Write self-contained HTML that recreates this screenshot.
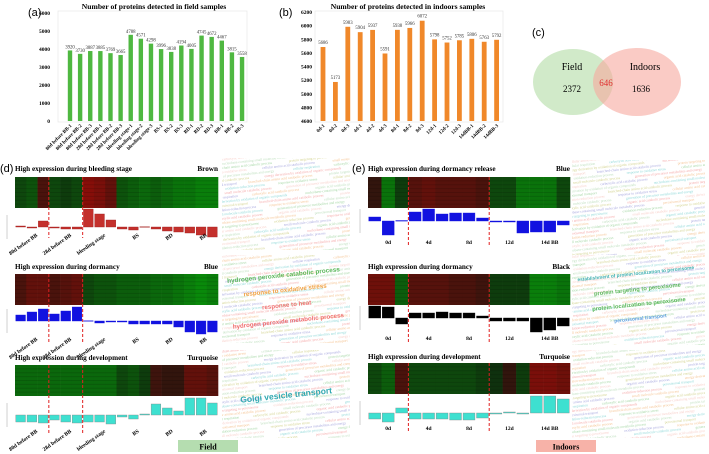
<!DOCTYPE html>
<html><head><meta charset="utf-8">
<style>
html,body{margin:0;padding:0;background:#fff;}
svg{display:block;font-family:"Liberation Serif",serif;}
.t{font-weight:bold;}
</style></head>
<body>
<svg id="fig" width="709" height="454" viewBox="0 0 709 454" xmlns="http://www.w3.org/2000/svg">
<g id="pa"></g>
<g id="pb"></g>
<g id="pc">
  <text x="532" y="36" font-family="Liberation Sans,sans-serif" font-size="11">(c)</text>
  <ellipse cx="573" cy="82" rx="40" ry="33" fill="#c9e6bf" opacity="0.85"/>
  <ellipse cx="637" cy="82" rx="44" ry="34" fill="#f6a99e" opacity="0.6"/>
  <text x="572" y="70" font-size="10" text-anchor="middle">Field</text>
  <text x="572" y="92" font-size="9" text-anchor="middle">2372</text>
  <text x="606" y="86" font-size="9" text-anchor="middle" fill="#e03030">646</text>
  <text x="645" y="70" font-size="10" text-anchor="middle">Indoors</text>
  <text x="641" y="92" font-size="9" text-anchor="middle">1636</text>
</g>
<g id="pd"></g>
<g id="pe"></g>
<g id="wc"></g>
<rect x="178" y="440" width="60" height="12" fill="#b5ddb0"/>
<text x="208" y="449.5" font-size="8" class="t" text-anchor="middle">Field</text>
<rect x="536" y="440" width="60" height="12" fill="#f7b2a8"/>
<text x="566" y="449.5" font-size="8" class="t" text-anchor="middle">Indoors</text>
</svg>
<script>
// ---- Panel a data
const aCats = ["80d before BB-1","80d before BB-2","80d before BB-3","28d before BB-1","28d before BB-2","28d before BB-3","bleeding stage-1","bleeding stage-2","bleeding stage-3","BS-1","BS-2","BS-3","BD-1","BD-2","BD-3","BB-1","BB-2","BB-3"];
const aVals = [3920,3730,3887,3885,3769,3665,4788,4571,4298,3996,3838,4194,4005,4745,4672,4467,3815,3558];
const aTicks = [0,1000,2000,3000,4000,5000,6000];
// ---- Panel b data
const bCats = ["0d-1","0d-2","0d-3","4d-1","4d-2","4d-3","8d-1","8d-2","8d-3","12d-1","12d-2","12d-3","14dBB-1","14dBB-2","14dBB-3"];
const bVals = [5686,5173,5983,5904,5937,5591,5938,5966,6072,5798,5752,5785,5806,5763,5792];
const bTicks = [4600,4800,5000,5200,5400,5600,5800,6000,6200];
// ---- Module data (field)
const d1Bars = [1,-1,6,-1,-2,-2,18,13,7,-2,-3,0.3,-2,-4,-5,-6,-8,-10];
const d2Bars = [6,9,12,7,10,14,0.3,-2,-1,-1,-3,-3,-3,-3,-6,-11,-13,-11];
const d3Bars = [-7,-7,-8,-5,-7,-8,-7,-7,-9,-2,-4,1,11,7,4,17,17,12];
const d1Heat = [-.3,-.4,.3,-.3,-.2,-.3,.8,.7,.5,-.4,-.5,-.6,-.5,-.6,-.7,-.7,-.8,-.8];
const d2Heat = [.3,.5,.5,.3,.4,.5,-.3,-.4,-.4,-.5,-.5,-.5,-.6,-.6,-.7,-.8,-.9,-.8];
const d3Heat = [-.6,-.6,-.6,-.6,-.6,-.6,-.6,-.6,-.6,-.3,-.4,-.2,.2,.1,.1,.5,.5,.4];
const dGroups = ["80d before BB","28d before BB","bleeding stage","BS","BD","BB"];
// ---- Module data (indoors)
const e1Bars = [4,-14,0.5,9,12,7,8,8,3,-1,-1,-12,-11,-11,-4];
const e2Bars = [12,11,-6,5,5,6,5,5,2,-3,-3,-3,-14,-12,-8];
const e3Bars = [-6,-9,5,-6,-6,-6,-7,-7,-5,-1,1,-1,17,17,14];
const e1Heat = [.1,-.7,-.2,.4,.5,.4,.4,.4,.3,-.3,-.3,-.7,-.7,-.7,-.3];
const e2Heat = [.6,.6,-.5,.4,.4,.4,.3,.3,.2,-.2,-.2,-.2,-.8,-.8,-.7];
const e3Heat = [-.3,-.5,.3,-.3,-.3,-.3,-.3,-.3,-.2,-.1,.1,-.2,.7,.7,.6];
const eGroups = ["0d","4d","8d","12d","14d BB"];

const NS="http://www.w3.org/2000/svg";
function mk(tag, attrs, parent){const e=document.createElementNS(NS,tag);for(const k in attrs)e.setAttribute(k,attrs[k]);parent.appendChild(e);return e;}
function txt(s, attrs, parent){const e=mk("text",attrs,parent);e.textContent=s;return e;}

// ===== Panel a
(function(){
  const g=document.getElementById("pa");
  txt("(a)",{x:28,y:16,"font-size":11,"font-family":"Liberation Sans,sans-serif"},g);
  txt("Number of proteins detected in field samples",{x:154,y:9,"font-size":7.6,class:"t","text-anchor":"middle"},g);
  const y0=121,y1=13,ymin=0,ymax=6000;
  const ys=v=>y0-(v-ymin)/(ymax-ymin)*(y0-y1);
  const xs=i=>70+i*10.12;
  mk("rect",{x:58,y:11,width:189,height:111,fill:"none",stroke:"#e4e4e4","stroke-width":0.6},g);
  aTicks.forEach(t=>{const e=txt(String(t),{x:50,y:ys(t)+2,"font-size":5.5,class:"t","text-anchor":"end"},g);
    
    });
  aVals.forEach((v,i)=>{
    const r=mk("rect",{x:xs(i)-2.2,y:ys(v),width:4.4,height:y0-ys(v),fill:"#4fb841"},g);
    
    
    const l=txt(String(v),{x:xs(i),y:ys(v)-2,"font-size":4.8,"text-anchor":"middle",fill:"#333"},g);
    
    
    const c=txt(aCats[i],{x:xs(i)+2,y:y0+5,"font-size":5,class:"t","text-anchor":"end",transform:`rotate(-45 ${xs(i)+2} ${y0+5})`},g);
    
    
  });
})();
// ===== Panel b
(function(){
  const g=document.getElementById("pb");
  txt("(b)",{x:279,y:16,"font-size":11,"font-family":"Liberation Sans,sans-serif"},g);
  txt("Number of proteins detected in indoors samples",{x:408,y:9,"font-size":7.6,class:"t","text-anchor":"middle"},g);
  const y0=121,y1=12,ymin=4600,ymax=6200;
  const ys=v=>y0-(v-ymin)/(ymax-ymin)*(y0-y1);
  const xs=i=>323+i*12.4;
  mk("rect",{x:315,y:11,width:188,height:111,fill:"none",stroke:"#e4e4e4","stroke-width":0.6},g);
  bTicks.forEach(t=>{const e=txt(String(t),{x:312,y:ys(t)+2,"font-size":5.5,class:"t","text-anchor":"end"},g);
    
    });
  bVals.forEach((v,i)=>{
    const r=mk("rect",{x:xs(i)-2.4,y:ys(v),width:4.8,height:y0-ys(v),fill:"#f0882a"},g);
    
    
    const l=txt(String(v),{x:xs(i),y:ys(v)-3,"font-size":4.8,"text-anchor":"middle",fill:"#333"},g);
    
    
    const c=txt(bCats[i],{x:xs(i)+2,y:y0+5,"font-size":5,class:"t","text-anchor":"end",transform:`rotate(-45 ${xs(i)+2} ${y0+5})`},g);
    
    
  });
})();

function heatColor(v){
  if(v>=0) return `rgb(${Math.round(38+120*v)},${Math.round(22-10*v)},${Math.round(14-6*v)})`;
  const a=-v; return `rgb(${Math.round(16-8*a)},${Math.round(38+110*a)},${Math.round(14-4*a)})`;
}
function module(g,opt){
  const {x0,x1,title,mod,ty,hy0,hy1,zero,heat,bars,barFill,barStroke,dash,labels,labY,rotate,groupsAt}=opt;
  const n=heat.length, cw=(x1-x0)/n;
  const t=txt(title,{x:x0,y:ty,"font-size":7.2,class:"t"},g);
  
  
  const m=txt(mod,{x:x1,y:ty,"font-size":7.2,class:"t","text-anchor":"end"},g);
  
  
  heat.forEach((v,i)=>{
    const r=mk("rect",{x:x0+i*cw,y:hy0,width:cw+0.3,height:hy1-hy0,fill:heatColor(v)},g);
    
    
  });
  for(let k=1;k<8;k++){mk("line",{x1:x0,x2:x1,y1:hy0+k*(hy1-hy0)/8,y2:hy0+k*(hy1-hy0)/8,stroke:"#000","stroke-opacity":0.12,"stroke-width":1},g);}
  bars.forEach((v,i)=>{
    const y=v>=0?zero-v:zero, h=Math.max(Math.abs(v),0.6);
    const r=mk("rect",{x:x0+i*cw+0.8,y:y,width:cw-1.6,height:h,fill:barFill,stroke:barStroke,"stroke-width":0.4},g);
    
    
  });
  mk("line",{x1:x0-8,x2:x0-8,y1:zero-12,y2:zero+12,stroke:"#888","stroke-width":0.4},g);
  dash.forEach(c=>{mk("line",{x1:x0+c*cw,x2:x0+c*cw,y1:hy0,y2:labY+2,stroke:"#e02020","stroke-width":1,"stroke-dasharray":"3,2"},g);});
  labels.forEach((s,i)=>{
    const cx=x0+groupsAt[i]*cw;
    let e;
    if(rotate) e=txt(s,{x:cx+6,y:labY,"font-size":5.5,class:"t","text-anchor":"end",transform:`rotate(-35 ${cx+6} ${labY})`},g);
    else e=txt(s,{x:cx,y:labY,"font-size":5.5,class:"t","text-anchor":"middle"},g);
    
    
  });
}
const pd=document.getElementById("pd"), pe=document.getElementById("pe");
txt("(d)",{x:0,y:172,"font-size":11,"font-family":"Liberation Sans,sans-serif"},pd);
txt("(e)",{x:352,y:172,"font-size":11,"font-family":"Liberation Sans,sans-serif"},pe);
const dAt=[1.5,4.5,7.5,10.5,13.5,16.5];
module(pd,{x0:15,x1:218,title:"High expression during bleeding stage",mod:"Brown",ty:171,hy0:177,hy1:208,zero:227,heat:d1Heat,bars:d1Bars,barFill:"#c4302c",barStroke:"#a02020",dash:[3,6],labels:dGroups,labY:236,rotate:true,groupsAt:dAt});
module(pd,{x0:15,x1:218,title:"High expression during dormancy",mod:"Blue",ty:269,hy0:274,hy1:305,zero:321,heat:d2Heat,bars:d2Bars,barFill:"#1212e0",barStroke:"#1212e0",dash:[3,6],labels:dGroups,labY:340,rotate:true,groupsAt:dAt});
module(pd,{x0:15,x1:218,title:"High expression during development",mod:"Turquoise",ty:360,hy0:365,hy1:396,zero:415,heat:d3Heat,bars:d3Bars,barFill:"#3ee0d0",barStroke:"#888",dash:[3,6],labels:dGroups,labY:432,rotate:true,groupsAt:dAt});
const eAt=[1.5,4.5,7.5,10.5,13.5];
module(pe,{x0:368,x1:570,title:"High expression during dormancy release",mod:"Blue",ty:171,hy0:177,hy1:208,zero:221,heat:e1Heat,bars:e1Bars,barFill:"#1212e0",barStroke:"#1212e0",dash:[3,9],labels:eGroups,labY:244,rotate:false,groupsAt:eAt});
module(pe,{x0:368,x1:570,title:"High expression during dormancy",mod:"Black",ty:269,hy0:274,hy1:305,zero:318,heat:e2Heat,bars:e2Bars,barFill:"#000",barStroke:"#000",dash:[3,9],labels:eGroups,labY:340,rotate:false,groupsAt:eAt});
module(pe,{x0:368,x1:570,title:"High expression during development",mod:"Turquoise",ty:359,hy0:363,hy1:394,zero:413,heat:e3Heat,bars:e3Bars,barFill:"#3ee0d0",barStroke:"#888",dash:[3,9],labels:eGroups,labY:430,rotate:false,groupsAt:eAt});

// ===== Word clouds
const phrases=["small molecule catabolic process","generation of precursor metabolites and energy","cellular respiration","carboxylic acid catabolic process","organic acid catabolic process","energy derivation by oxidation of organic compounds","nucleobase-containing small molecule metabolic process","peroxisomal transport","branched-chain amino acid catabolic process","protein targeting to peroxisome","oxidation-reduction process","response to oxidative stress","cellular amino acid catabolic process"];
const wcColors=["#7cc47c","#f0a860","#f08080","#60c8c8","#8080d0","#c0c060","#a0d0a0","#f4b8b0"];
const boxes=[
 {x:222,y:158,w:128,h:92,hi:[]},
 {x:222,y:255,w:128,h:88,hi:[["hydrogen peroxide catabolic process","#5cb85c",6.4,22],["response to oxidative stress","#f0a040",6.2,37],["response to heat","#f07070",6.2,52],["hydrogen peroxide metabolic process","#f07070",6.2,68]]},
 {x:222,y:350,w:128,h:88,hi:[["Golgi vesicle transport","#30a8b0",8.5,48]]},
 {x:572,y:160,w:133,h:95,hi:[]},
 {x:572,y:255,w:133,h:90,hi:[["establishment of protein localization to peroxisome","#40b0b0",4.8,20],["protein targeting to peroxisome","#5cb85c",5.8,36],["protein localization to peroxisome","#5cb85c",5.8,51],["peroxisomal transport","#60a0e0",5,65]]},
 {x:572,y:350,w:133,h:88,hi:[]}
];
const wc=document.getElementById("wc");
boxes.forEach((b,bi)=>{
  const cp=mk("clipPath",{id:"cp"+bi},wc);
  mk("rect",{x:b.x,y:b.y,width:b.w,height:b.h},cp);
  const outer=mk("g",{"clip-path":"url(#cp"+bi+")"},wc);
  
  
  const g=mk("g",{transform:`rotate(-6 ${b.x+b.w/2} ${b.y+b.h/2})`},outer);
  let k=bi*3;
  for(let yy=b.y-8; yy<b.y+b.h+14; yy+=4.2){
    let xx=b.x-14+((k*13)%20);
    while(xx<b.x+b.w+14){
      const p=phrases[k%phrases.length], c=wcColors[(k*5+bi)%wcColors.length];
      const e=txt(p,{x:xx,y:yy,"font-size":3.6,fill:c,opacity:0.7},g);
      
      
      xx+=p.length*1.75+6; k++;
    }
  }
  b.hi.forEach(h=>{
    const e=txt(h[0],{x:b.x+b.w/2,y:b.y+h[3],"font-size":h[2],fill:h[1],"font-weight":"bold","font-family":"Liberation Sans,sans-serif","text-anchor":"middle"},g);
    
    
  });
});
</script>
</body></html>
